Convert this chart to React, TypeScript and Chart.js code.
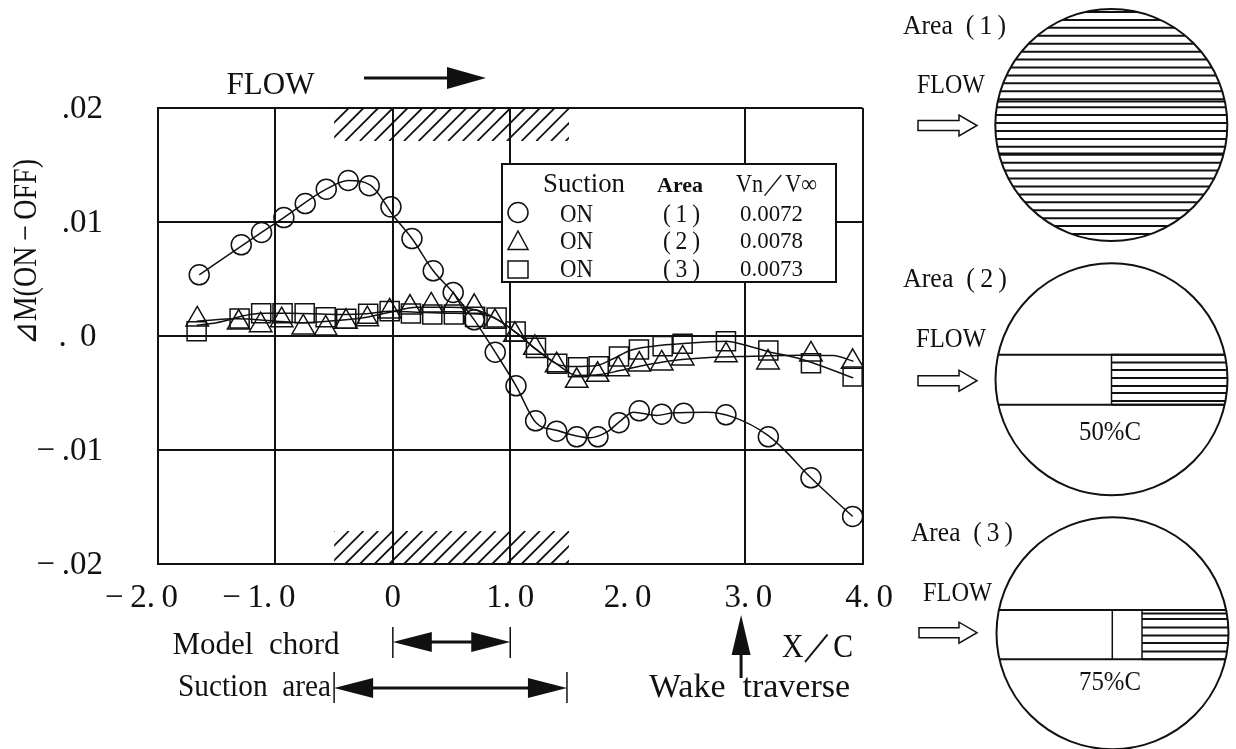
import React, { useEffect, useRef } from "react";
import { Chart, registerables } from "chart.js";

Chart.register(...registerables);

const SERIF = '"Liberation Serif", serif';
const T = "\u2009";

const xTickLabels = [
  `−${T}2.${T}0${T}${T}${T}${T}${T}`,
  `−${T}1.${T}0${T}${T}${T}${T}${T}`,
  "0",
  `1.${T}0`,
  `2.${T}0`,
  `${T}3.${T}0`,
  `${T}${T}4.${T}0`,
];
const yTickLabels = [".02", ".01", `.${T}${T}0${T}`, `−${T}.01`, `−${T}.02`];

const circleX = [-1.649, -1.291, -1.118, -0.928, -0.746, -0.567, -0.38, -0.201, -0.016, 0.163, 0.344, 0.514, 0.693, 0.872, 1.049, 1.216, 1.395, 1.566, 1.747, 1.926, 2.099, 2.29, 2.477, 2.837, 3.198, 3.561, 3.916];
const circleY = [0.00537, 0.008, 0.00908, 0.01039, 0.01162, 0.01288, 0.01364, 0.01318, 0.01133, 0.00855, 0.00572, 0.00382, 0.00142, -0.00142, -0.00437, -0.00744, -0.00835, -0.00884, -0.00884, -0.00761, -0.00656, -0.00686, -0.00677, -0.00691, -0.00884, -0.01244, -0.01583];

const triangleX = [-1.666, -1.313, -1.126, -0.947, -0.763, -0.572, -0.399, -0.218, -0.027, 0.146, 0.327, 0.514, 0.693, 0.87, 1.04, 1.21, 1.395, 1.566, 1.744, 1.92, 2.099, 2.29, 2.468, 2.837, 3.195, 3.561, 3.916];
const triangleY = [0.00145, 0.00118, 0.00095, 0.00139, 0.00075, 0.00066, 0.00125, 0.00147, 0.00215, 0.0025, 0.00268, 0.0027, 0.00256, 0.00125, 0.0001, -0.00104, -0.00256, -0.00393, -0.0034, -0.00291, -0.0025, -0.00241, -0.00197, -0.00168, -0.00232, -0.00162, -0.00226];

const squareX = [-1.671, -1.305, -1.121, -0.939, -0.751, -0.572, -0.397, -0.21, -0.027, 0.154, 0.336, 0.52, 0.7, 0.884, 1.046, 1.219, 1.4, 1.577, 1.753, 1.926, 2.096, 2.298, 2.468, 2.837, 3.198, 3.561, 3.916];
const squareY = [0.00042, 0.00154, 0.002, 0.002, 0.002, 0.00165, 0.00151, 0.00195, 0.00218, 0.00197, 0.00189, 0.00189, 0.00168, 0.00162, 0.0004, -0.00104, -0.00244, -0.00274, -0.00265, -0.0018, -0.00118, -0.00089, -0.00068, -0.00046, -0.00127, -0.00239, -0.00355];

const fit1X = [-1.649, -1.118, -0.928, -0.567, -0.38, -0.195, 0.018, 0.163, 0.344, 0.514, 0.693, 0.872, 1.049, 1.216, 1.395, 1.566, 1.679, 1.821, 1.926, 2.048, 2.247, 2.388, 2.673, 2.9, 3.198, 3.325, 3.561, 3.916];
const fit1Y = [0.00537, 0.00908, 0.01039, 0.01288, 0.01364, 0.01326, 0.01037, 0.00855, 0.00572, 0.0038, 0.00142, -0.00142, -0.00437, -0.00756, -0.00827, -0.00877, -0.00893, -0.00844, -0.00756, -0.00668, -0.00697, -0.00674, -0.00668, -0.00712, -0.00873, -0.0099, -0.01244, -0.01583];

const fit2X = [-1.671, -1.331, -0.99, -0.763, -0.479, -0.223, -0.025, 0.203, 0.486, 0.77, 1.083, 1.196, 1.395, 1.566, 1.764, 1.934, 2.133, 2.388, 2.729, 3.07, 3.467, 3.751, 3.922];
const fit2Y = [0.0013, 0.00151, 0.0013, 0.00116, 0.00136, 0.00165, 0.00209, 0.00253, 0.00253, 0.00209, 0.00004, -0.00098, -0.00244, -0.00346, -0.00338, -0.00303, -0.00259, -0.00215, -0.00186, -0.00177, -0.00168, -0.00171, -0.00221];

const fit3X = [-1.671, -1.501, -1.217, -1.075, -0.876, -0.479, -0.223, -0.025, 0.203, 0.486, 0.77, 1.083, 1.196, 1.395, 1.537, 1.736, 1.877, 2.019, 2.218, 2.503, 2.843, 2.957, 3.184, 3.467, 3.922];
const fit3Y = [0.00094, 0.00116, 0.00189, 0.002, 0.002, 0.00189, 0.00195, 0.00218, 0.00209, 0.002, 0.00189, 0.00004, -0.00098, -0.00244, -0.00268, -0.00259, -0.002, -0.00127, -0.00089, -0.00063, -0.00046, -0.00068, -0.00133, -0.002, -0.00367];

const legendRows = [
  ["ON", `(${T}1${T})`, "0.0072"],
  ["ON", `(${T}2${T})`, "0.0078"],
  ["ON", `(${T}3${T})`, "0.0073"],
];

const zip = (xs: number[], ys: number[]) => xs.map((x, i) => ({ x, y: ys[i] }));

function txt(ctx: any, s: string, left: number, right: number, cy: number, font: string) {
  ctx.font = font;
  ctx.textAlign = "center";
  ctx.textBaseline = "middle";
  ctx.fillStyle = "#111";
  ctx.fillText(s, (left + right) / 2, cy + 2, right - left);
}

function solidHead(ctx: any, tipX: number, tipY: number, baseX: number, baseY: number, half: number) {
  const dx = baseX - tipX, dy = baseY - tipY;
  const len = Math.hypot(dx, dy);
  const nx = -dy / len, ny = dx / len;
  ctx.beginPath();
  ctx.moveTo(tipX, tipY);
  ctx.lineTo(baseX + nx * half, baseY + ny * half);
  ctx.lineTo(baseX - nx * half, baseY - ny * half);
  ctx.closePath();
  ctx.fill();
}

function hollowArrow(ctx: any, x0: number, x1: number, cy: number) {
  const hb = x1 - 18;
  ctx.beginPath();
  ctx.moveTo(x0, cy - 5);
  ctx.lineTo(hb, cy - 5);
  ctx.lineTo(hb, cy - 10.5);
  ctx.lineTo(x1, cy);
  ctx.lineTo(hb, cy + 10.5);
  ctx.lineTo(hb, cy + 5);
  ctx.lineTo(x0, cy + 5);
  ctx.closePath();
  ctx.lineWidth = 1.5;
  ctx.stroke();
}

function hatch(ctx: any, l: number, r: number, t: number, b: number) {
  ctx.save();
  ctx.beginPath();
  ctx.rect(l, t, r - l, b - t);
  ctx.clip();
  ctx.lineWidth = 1.8;
  const h = b - t;
  for (let x = l - h; x < r + h; x += 14.7) {
    ctx.beginPath();
    ctx.moveTo(x, b);
    ctx.lineTo(x + h, t);
    ctx.stroke();
  }
  ctx.restore();
}

function stripes(ctx: any, cx: number, cy: number, r: number, l: number, rgt: number, ys: number[]) {
  ctx.save();
  ctx.beginPath();
  ctx.arc(cx, cy, r, 0, Math.PI * 2);
  ctx.clip();
  ctx.lineWidth = 2;
  ys.forEach((y) => {
    ctx.beginPath();
    ctx.moveTo(l, y);
    ctx.lineTo(rgt, y);
    ctx.stroke();
  });
  ctx.restore();
}

function circleOutline(ctx: any, cx: number, cy: number, r: number) {
  ctx.beginPath();
  ctx.arc(cx, cy, r, 0, Math.PI * 2);
  ctx.lineWidth = 2;
  ctx.stroke();
}

const annotations = {
  id: "annotations",
  afterDatasetsDraw(chart: any) {
    const ctx = chart.ctx;
    const X = chart.scales.x, Y = chart.scales.y;
    ctx.save();
    ctx.strokeStyle = "#111";
    ctx.fillStyle = "#111";

    const sl = X.getPixelForValue(-0.5), sr = X.getPixelForValue(1.5);
    hatch(ctx, sl, sr, Y.getPixelForValue(0.02), Y.getPixelForValue(0.0171));
    hatch(ctx, sl, sr, Y.getPixelForValue(-0.0171), Y.getPixelForValue(-0.02));

    // legend box
    ctx.fillStyle = "#fff";
    ctx.fillRect(502, 164, 334, 118);
    ctx.lineWidth = 2;
    ctx.strokeRect(502, 164, 334, 118);
    txt(ctx, "Suction", 543, 625, 183, `27px ${SERIF}`);
    txt(ctx, "Area", 657, 703, 184, `bold 22px ${SERIF}`);
    txt(ctx, "Vn／V∞", 736, 817, 183, `25px ${SERIF}`);
    const rowY = [213, 240, 268];
    legendRows.forEach((row, i) => {
      txt(ctx, row[0], 560, 593, rowY[i], `26px ${SERIF}`);
      txt(ctx, row[1], 663, 700, rowY[i], `26px ${SERIF}`);
      txt(ctx, row[2], 740, 803, rowY[i], `24px ${SERIF}`);
    });
    ctx.strokeStyle = "#111";
    ctx.fillStyle = "#111";
    ctx.lineWidth = 1.5;
    ctx.beginPath();
    ctx.arc(518, 212.5, 10, 0, Math.PI * 2);
    ctx.stroke();
    ctx.beginPath();
    ctx.moveTo(518, 231);
    ctx.lineTo(528, 249.5);
    ctx.lineTo(508, 249.5);
    ctx.closePath();
    ctx.stroke();
    ctx.strokeRect(508, 261, 20, 17);

    // axis captions
    ctx.save();
    ctx.translate(25, 252);
    ctx.rotate(-Math.PI / 2);
    txt(ctx, `⊿M(ON${T}−${T}OFF)`, -93, 93, 0, `33px ${SERIF}`);
    ctx.restore();
    txt(ctx, "FLOW", 226, 315, 84, `31px ${SERIF}`);
    ctx.lineWidth = 3;
    ctx.beginPath();
    ctx.moveTo(364, 78);
    ctx.lineTo(455, 78);
    ctx.stroke();
    solidHead(ctx, 486, 78, 447, 78, 11);

    // lower annotations
    const x0 = X.getPixelForValue(0), x1 = X.getPixelForValue(1);
    txt(ctx, "Model  chord", 171, 341, 644, `31px ${SERIF}`);
    ctx.lineWidth = 1.5;
    ctx.beginPath();
    ctx.moveTo(x0, 627); ctx.lineTo(x0, 658);
    ctx.moveTo(x1, 627); ctx.lineTo(x1, 658);
    ctx.stroke();
    ctx.lineWidth = 3;
    ctx.beginPath();
    ctx.moveTo(x0 + 30, 642); ctx.lineTo(x1 - 30, 642);
    ctx.stroke();
    solidHead(ctx, x0, 642, x0 + 39, 642, 10);
    solidHead(ctx, x1, 642, x1 - 39, 642, 10);

    txt(ctx, "Suction  area", 178, 331, 686, `32px ${SERIF}`);
    ctx.lineWidth = 1.5;
    ctx.beginPath();
    ctx.moveTo(sl, 672); ctx.lineTo(sl, 703);
    ctx.moveTo(sr - 2, 672); ctx.lineTo(sr - 2, 703);
    ctx.stroke();
    ctx.lineWidth = 3;
    ctx.beginPath();
    ctx.moveTo(sl + 30, 688); ctx.lineTo(sr - 32, 688);
    ctx.stroke();
    solidHead(ctx, sl, 688, sl + 39, 688, 10);
    solidHead(ctx, sr - 2, 688, sr - 41, 688, 10);

    txt(ctx, "X／C", 782, 853, 646, `33px ${SERIF}`);
    txt(ctx, "Wake  traverse", 647, 852, 686, `34px ${SERIF}`);
    const wx = X.getPixelForValue(3) - 4;
    ctx.lineWidth = 3;
    ctx.beginPath();
    ctx.moveTo(wx, 650); ctx.lineTo(wx, 678);
    ctx.stroke();
    solidHead(ctx, wx, 615, wx, 655, 9.5);

    // circle 1
    ctx.strokeStyle = "#111";
    txt(ctx, `Area\u2002(${T}1${T})`, 903, 1006, 25, `28px ${SERIF}`);
    txt(ctx, "FLOW", 917, 985, 84, `27px ${SERIF}`);
    hollowArrow(ctx, 918, 977, 125.5);
    const ys1: number[] = [];
    for (let i = 0; i < 30; i++) ys1.push(12 + i * 7.93);
    ys1.push(101.5, 153.5);
    stripes(ctx, 1111.3, 125, 116, 990, 1232, ys1);
    circleOutline(ctx, 1111.3, 125, 116);

    // circle 2
    txt(ctx, `Area\u2002(${T}2${T})`, 903, 1007, 278, `28px ${SERIF}`);
    txt(ctx, "FLOW", 916, 986, 338, `27px ${SERIF}`);
    hollowArrow(ctx, 918, 977, 380.7);
    stripes(ctx, 1111.5, 379.3, 116, 1111.5, 1232, [354.7, 362.5, 370, 378, 386, 393, 401, 404.7]);
    stripes(ctx, 1111.5, 379.3, 116, 990, 1232, [354.7, 404.7]);
    ctx.lineWidth = 1.5;
    ctx.beginPath();
    ctx.moveTo(1111.5, 354.7); ctx.lineTo(1111.5, 404.7);
    ctx.stroke();
    circleOutline(ctx, 1111.5, 379.3, 116);
    txt(ctx, "50%C", 1079, 1141, 431, `27px ${SERIF}`);

    // circle 3
    txt(ctx, `Area\u2002(${T}3${T})`, 911, 1013, 532, `28px ${SERIF}`);
    txt(ctx, "FLOW", 923, 992, 592, `27px ${SERIF}`);
    hollowArrow(ctx, 919, 977, 632.7);
    stripes(ctx, 1112.5, 633.3, 116, 1142, 1232, [610, 613.5, 619, 627.5, 635.5, 643, 651.5, 659.3]);
    stripes(ctx, 1112.5, 633.3, 116, 990, 1232, [610, 659.3]);
    ctx.lineWidth = 1.5;
    ctx.beginPath();
    ctx.moveTo(1112.3, 610); ctx.lineTo(1112.3, 659.3);
    ctx.moveTo(1142, 610); ctx.lineTo(1142, 659.3);
    ctx.stroke();
    circleOutline(ctx, 1112.5, 633.3, 116);
    txt(ctx, "75%C", 1079, 1141, 681, `27px ${SERIF}`);

    ctx.restore();
  },
};

export default function App() {
  const ref = useRef<HTMLCanvasElement>(null);
  useEffect(() => {
    document.body.style.margin = "0";
    document.body.style.overflow = "hidden";
    const line = (data: any[]) => ({
      data,
      showLine: true,
      pointRadius: 0,
      borderColor: "#111",
      borderWidth: 1.5,
      cubicInterpolationMode: "monotone",
      fill: false,
    });
    const marks = (data: any[], pointStyle: string, pointRadius: number) => ({
      data,
      showLine: false,
      pointStyle,
      pointRadius,
      pointBackgroundColor: "rgba(0,0,0,0)",
      pointBorderColor: "#111",
      pointBorderWidth: 1.5,
    });
    const chart = new Chart(ref.current!, {
      type: "scatter",
      data: {
        datasets: [
          line(zip(fit1X, fit1Y)),
          line(zip(fit2X, fit2Y)),
          line(zip(fit3X, fit3Y)),
          marks(zip(circleX, circleY), "circle", 10),
          marks(zip(triangleX, triangleY), "triangle", 13),
          marks(zip(squareX, squareY), "rect", 13.5),
        ] as any,
      },
      plugins: [annotations],
      options: {
        animation: false,
        responsive: false,
        devicePixelRatio: 1,
        layout: { padding: { left: 0, top: 108, right: 373.5, bottom: 0 } },
        plugins: { legend: { display: false }, tooltip: { enabled: false } },
        scales: {
          x: {
            type: "linear",
            min: -2,
            max: 4,
            afterFit: (s: any) => { s.height = 185; },
            grid: {
              drawTicks: false,
              lineWidth: 2,
              color: (c: any) => (c.tick && c.tick.value === 2 ? "rgba(0,0,0,0)" : "#111"),
            },
            border: { color: "#111", width: 2 },
            afterBuildTicks: (s: any) => {
              s.ticks = xTickLabels.map((_, i) => ({ value: -2 + i }));
            },
            ticks: {
              autoSkip: false,
              maxRotation: 0,
              minRotation: 0,
              padding: 15,
              color: "#111",
              font: { family: SERIF, size: 33 },
              callback: (_v: any, i: number) => xTickLabels[i],
            },
          },
          y: {
            type: "linear",
            min: -0.02,
            max: 0.02,
            afterFit: (s: any) => { s.width = 158; },
            grid: { drawTicks: false, lineWidth: 2, color: "#111" },
            border: { color: "#111", width: 2 },
            afterBuildTicks: (s: any) => {
              s.ticks = yTickLabels.map((_, i) => ({ value: 0.02 - i * 0.01 })).reverse();
            },
            ticks: {
              autoSkip: false,
              padding: 55,
              labelOffset: 1,
              color: "#111",
              font: { family: SERIF, size: 33 },
              callback: (_v: any, i: number) => yTickLabels[yTickLabels.length - 1 - i],
            },
          },
        },
      },
    } as any);
    return () => chart.destroy();
  }, []);
  return <canvas ref={ref} width={1236} height={749} style={{ display: "block" }} />;
}
